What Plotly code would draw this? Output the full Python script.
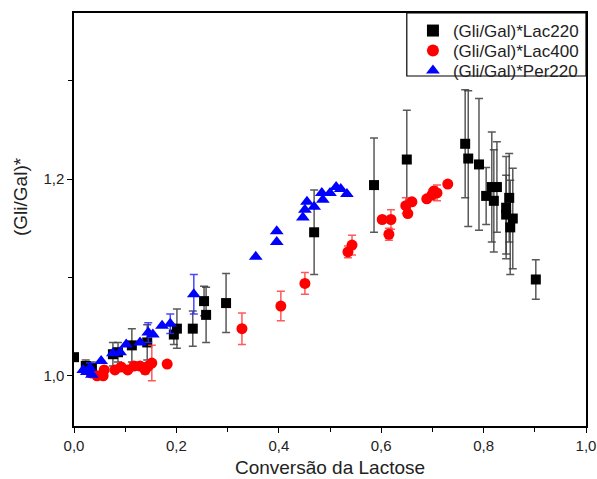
import plotly.graph_objects as go

# Lac220 (black squares)
lac220_x = [0.000, 0.023, 0.035, 0.076, 0.086, 0.113, 0.143, 0.195, 0.201, 0.232, 0.254, 0.258, 0.297,
            0.469, 0.586, 0.650, 0.764, 0.770, 0.791, 0.805, 0.816, 0.826, 0.820, 0.850, 0.844, 0.844,
            0.857, 0.852, 0.902]
lac220_y = [1.019, 1.010, 1.008, 1.022, 1.024, 1.031, 1.034, 1.042, 1.048, 1.048, 1.076, 1.062, 1.074,
            1.146, 1.194, 1.220, 1.236, 1.221, 1.215, 1.183, 1.192, 1.192, 1.178, 1.181, 1.171, 1.164,
            1.160, 1.151, 1.098]
lac220_err = [0.0, 0.006, 0.006, 0.012, 0.010, 0.017, 0.018, 0.010, 0.020, 0.018, 0.015, 0.028, 0.030,
              0.043, 0.048, 0.050, 0.055, 0.069, 0.067, 0.029, 0.056, 0.046, 0.052, 0.045, 0.052, 0.040,
              0.051, 0.048, 0.020]

# Lac400 (red circles)
lac400_x = [0.033, 0.045, 0.057, 0.059, 0.080, 0.092, 0.105, 0.117, 0.129, 0.139, 0.145, 0.152, 0.182,
            0.328, 0.404, 0.451, 0.535, 0.543, 0.602, 0.619, 0.615, 0.648, 0.652, 0.660, 0.689, 0.699,
            0.703, 0.709, 0.730]
lac400_y = [1.003, 1.000, 1.000, 1.006, 1.006, 1.009, 1.006, 1.010, 1.010, 1.006, 1.010, 1.013, 1.012,
            1.048, 1.071, 1.094, 1.126, 1.133, 1.159, 1.159, 1.144, 1.173, 1.165, 1.177, 1.180, 1.184,
            1.188, 1.186, 1.195]
lac400_err = [0.0, 0.0, 0.0, 0.0, 0.0, 0.0, 0.0, 0.004, 0.0, 0.004, 0.0, 0.018, 0.0,
              0.016, 0.015, 0.011, 0.006, 0.010, 0.0, 0.010, 0.006, 0.008, 0.0, 0.0, 0.0, 0.005,
              0.0, 0.008, 0.0]

# Per220 (blue triangles)
per220_x = [0.018, 0.025, 0.031, 0.035, 0.053, 0.076, 0.090, 0.102, 0.129, 0.145, 0.154, 0.172, 0.188,
            0.234, 0.355, 0.396, 0.396, 0.447, 0.451, 0.455, 0.469, 0.484, 0.486, 0.500, 0.512, 0.521,
            0.533]
per220_y = [1.006, 1.004, 1.008, 1.001, 1.015, 1.023, 1.024, 1.032, 1.034, 1.044, 1.042, 1.051, 1.053,
            1.083, 1.121, 1.147, 1.136, 1.161, 1.169, 1.177, 1.172, 1.186, 1.179, 1.186, 1.192, 1.190,
            1.185]
per220_err = [0.0, 0.0, 0.005, 0.0, 0.0, 0.0, 0.0, 0.0, 0.0, 0.010, 0.0, 0.0, 0.010,
              0.020, 0.0, 0.0, 0.0, 0.0, 0.0, 0.0, 0.0, 0.0, 0.0, 0.0, 0.0, 0.0,
              0.0]

series = [
    ("(Gli/Gal)*Lac220", lac220_x, lac220_y, lac220_err, "square", "#000000", "rgba(60,60,60,0.85)", 10, "legend"),
    ("(Gli/Gal)*Lac400", lac400_x, lac400_y, lac400_err, "circle", "#ff0000", "rgba(255,60,60,0.85)", 11, "legend2"),
    ("(Gli/Gal)*Per220", per220_x, per220_y, per220_err, "triangle-up", "#0000ff", "rgba(40,40,255,0.85)", 12, "legend3"),
]

FONT = "Liberation Sans, Arial, sans-serif"

fig = go.Figure()
for name, xs, ys, es, sym, col, ecol, sz, leg in series:
    fig.add_trace(go.Scatter(
        x=xs, y=ys, mode="markers", name=name, legend=leg,
        marker=dict(symbol=sym, color=col, size=sz, line=dict(width=0)),
        error_y=dict(type="data", array=es, visible=True, color=ecol, thickness=1.5, width=4),
    ))

axis_common = dict(
    showline=True, linecolor="black", linewidth=1.5, mirror=True,
    ticks="outside", ticklen=5, tickwidth=1.2, tickcolor="black",
    showgrid=False, zeroline=False, automargin=False,
    tickfont=dict(family=FONT, size=15, color="#222"),
    tickformat=".1f",
)

# legend frame (top-right corner, flush with the plot border)
fig.add_shape(type="rect", xref="paper", yref="paper",
              x0=0.65, x1=1.0, y0=(426 - 76) / 413, y1=1.0,
              line=dict(color="black", width=1.2), fillcolor="white", layer="below")

# y-axis title as rotated text
fig.add_annotation(text="(Gli/Gal)*", xref="paper", yref="paper",
                   x=(20 - 74) / 512, y=(426 - 197) / 413, xanchor="center", yanchor="middle",
                   textangle=-90, showarrow=False, font=dict(size=19, family=FONT, color="#222"))

def leg(ytop_px):
    return dict(x=0.662, y=(426 - ytop_px) / 413, xanchor="left", yanchor="top",
                borderwidth=0, bgcolor="rgba(0,0,0,0)",
                font=dict(size=17, family=FONT, color="#222"), itemsizing="constant")

fig.update_layout(
    width=597, height=479,
    margin=dict(l=74, r=11, t=13, b=53),
    paper_bgcolor="white", plot_bgcolor="white",
    separators=",.",
    font=dict(family=FONT, color="#222"),
    xaxis=dict(range=[0, 1], dtick=0.2, tick0=0,
               minor=dict(dtick=0.1, ticks="outside", ticklen=4, tickcolor="black"),
               title=dict(text="Conversão da Lactose", font=dict(size=19), standoff=8),
               **axis_common),
    yaxis=dict(range=[0.949, 1.369], dtick=0.2, tick0=1.0,
               minor=dict(dtick=0.1, ticks="outside", ticklen=4, tickcolor="black"),
               **axis_common),
    legend=leg(13),
    legend2=leg(33),
    legend3=leg(53),
    showlegend=True,
)

fig.write_html("out.html")
